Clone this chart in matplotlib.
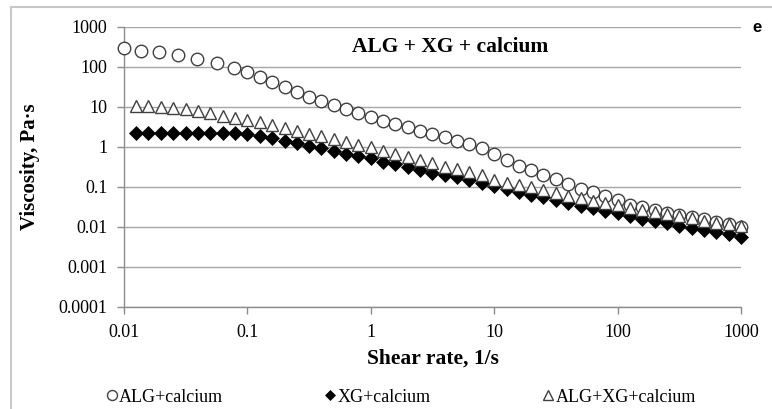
import matplotlib
matplotlib.use("Agg")
import matplotlib.pyplot as plt
from matplotlib.patches import Rectangle

# shear rates (1/s) shared by XG and ALG+XG series
shear = [0.0126, 0.0158, 0.02, 0.0251, 0.0316, 0.0398, 0.0501, 0.0631, 0.0794, 0.1,
         0.126, 0.158, 0.2, 0.251, 0.316, 0.398, 0.501, 0.631, 0.794, 1,
         1.26, 1.58, 2, 2.51, 3.16, 3.98, 5.01, 6.31, 7.94, 10,
         12.6, 15.8, 20, 25.1, 31.6, 39.8, 50.1, 63.1, 79.4, 100,
         126, 158, 200, 251, 316, 398, 501, 631, 794, 1000]

# ALG+calcium has its own low-shear points
shear_alg = [0.01, 0.0137, 0.0192, 0.0274, 0.0391, 0.0568, 0.0778] + shear[9:]
visc_alg = [293, 256, 233, 200, 156, 124, 92.8,
            72.9, 55.3, 41.4, 31.1, 24.1, 18.1, 14.4, 11.2, 8.76, 6.96,
            5.62, 4.54, 3.76, 3.11, 2.56, 2.11, 1.75, 1.44, 1.17, 0.928,
            0.668, 0.473, 0.335, 0.266, 0.205, 0.158, 0.122, 0.0917, 0.075, 0.0586,
            0.046, 0.0365, 0.0311, 0.0266, 0.0228, 0.02, 0.0181, 0.0156, 0.0136, 0.0119,
            0.01]

visc_xg = [2.2, 2.2, 2.2, 2.2, 2.2, 2.2, 2.2, 2.2, 2.2, 2.08,
           1.88, 1.65, 1.41, 1.26, 1.07, 0.928, 0.808, 0.684, 0.596, 0.522,
           0.429, 0.376, 0.322, 0.266, 0.228, 0.2, 0.175, 0.15, 0.128, 0.106,
           0.0891, 0.0729, 0.0631, 0.0553, 0.0473, 0.0405, 0.0335, 0.0293, 0.0251, 0.022,
           0.0188, 0.0156, 0.0144, 0.0124, 0.0106, 0.00928, 0.00841, 0.00763, 0.00668, 0.00572]

visc_mix = [10.6, 10.6, 10.2, 9.28, 8.76, 7.94, 6.96, 6.06, 5.4, 4.73,
            4.22, 3.55, 3.04, 2.54, 2.16, 1.85, 1.58, 1.33, 1.12, 0.983,
            0.808, 0.668, 0.553, 0.473, 0.391, 0.322, 0.277, 0.241, 0.2, 0.15,
            0.124, 0.112, 0.0983, 0.0841, 0.072, 0.0596, 0.0522, 0.0455, 0.0405, 0.0355,
            0.0293, 0.0266, 0.0241, 0.0211, 0.0188, 0.0165, 0.0144, 0.0128, 0.0119, 0.0106]

labels = ['ALG+calcium', 'XG+calcium', 'ALG+XG+calcium']
yticks = [0.0001, 0.001, 0.01, 0.1, 1, 10, 100, 1000]
ytick_labels = ['0.0001', '0.001', '0.01', '0.1', '1', '10', '100', '1000']
xticks = [0.01, 0.1, 1, 10, 100, 1000]
xtick_labels = ['0.01', '0.1', '1', '10', '100', '1000']

serif = 'Liberation Serif'
grid_col = '#a6a6a6'
edge_col = '#404040'


def main():
    fig = plt.figure(figsize=(7.72, 4.09), dpi=100)
    fig.patches.append(Rectangle((0.0142, -0.1), 1.2, 1.083, transform=fig.transFigure,
                                 fill=False, ec='#c8c8c8', lw=1.5))

    ax = fig.add_axes([0.1606, 0.2494, 0.7992, 0.6846])
    ax.set_xscale('log')
    ax.set_yscale('log')
    ax.set_xlim(0.01, 1000)
    ax.set_ylim(0.0001, 1000)

    h1, = ax.plot(shear_alg, visc_alg, ls='none', marker='o', ms=9,
                  mfc='white', mec=edge_col, mew=1.0, clip_on=False, zorder=3)
    h2, = ax.plot(shear, visc_xg, ls='none', marker='D', ms=7,
                  mfc='black', mec='black', mew=0.5, clip_on=False, zorder=4)
    h3, = ax.plot(shear, visc_mix, ls='none', marker='^', ms=9,
                  mfc='white', mec=edge_col, mew=1.0, clip_on=False, zorder=5)

    ax.set_yticks(yticks)
    ax.set_yticklabels(ytick_labels)
    ax.set_xticks(xticks)
    ax.set_xticklabels(xtick_labels)
    ax.minorticks_off()
    ax.tick_params(axis='both', direction='out', length=5, width=1, color='#8c8c8c',
                   labelsize=13, pad=7)
    for lab in ax.get_xticklabels() + ax.get_yticklabels():
        lab.set_fontfamily(serif)

    ax.grid(axis='y', color=grid_col, lw=1)
    ax.set_axisbelow(True)
    for side in ['top', 'right']:
        ax.spines[side].set_visible(False)
    for side in ['left', 'bottom']:
        ax.spines[side].set_color('#8c8c8c')
        ax.spines[side].set_linewidth(1)

    ax.set_xlabel('Shear rate, 1/s', family=serif, weight='bold', fontsize=15.5, va='center')
    ax.xaxis.set_label_coords(0.5, -0.186)
    ax.set_ylabel('Viscosity, Pa·s', family=serif, weight='bold', fontsize=15, va='center')
    ax.yaxis.set_label_coords(-0.153, 0.5)

    ax.text(0.528, 0.929, 'ALG + XG + calcium', transform=ax.transAxes, ha='center',
            va='center', family=serif, weight='bold', fontsize=15.5)
    fig.text(0.9806, 0.933, 'e', ha='center', va='center', family='Liberation Sans',
             weight='bold', fontsize=12)

    # legend entries spread along the bottom, equal column widths
    for h, lab, x in zip([h1, h2, h3], labels, [0.138, 0.421, 0.703]):
        fig.legend([h], [lab], loc='center left', bbox_to_anchor=(x, 0.029),
                   frameon=False, handlelength=0.6, handletextpad=0.1,
                   borderpad=0, borderaxespad=0, markerscale=0.8,
                   prop={'family': serif, 'size': 13})

    fig.savefig('out.png', dpi=100)


if __name__ == '__main__':
    main()
